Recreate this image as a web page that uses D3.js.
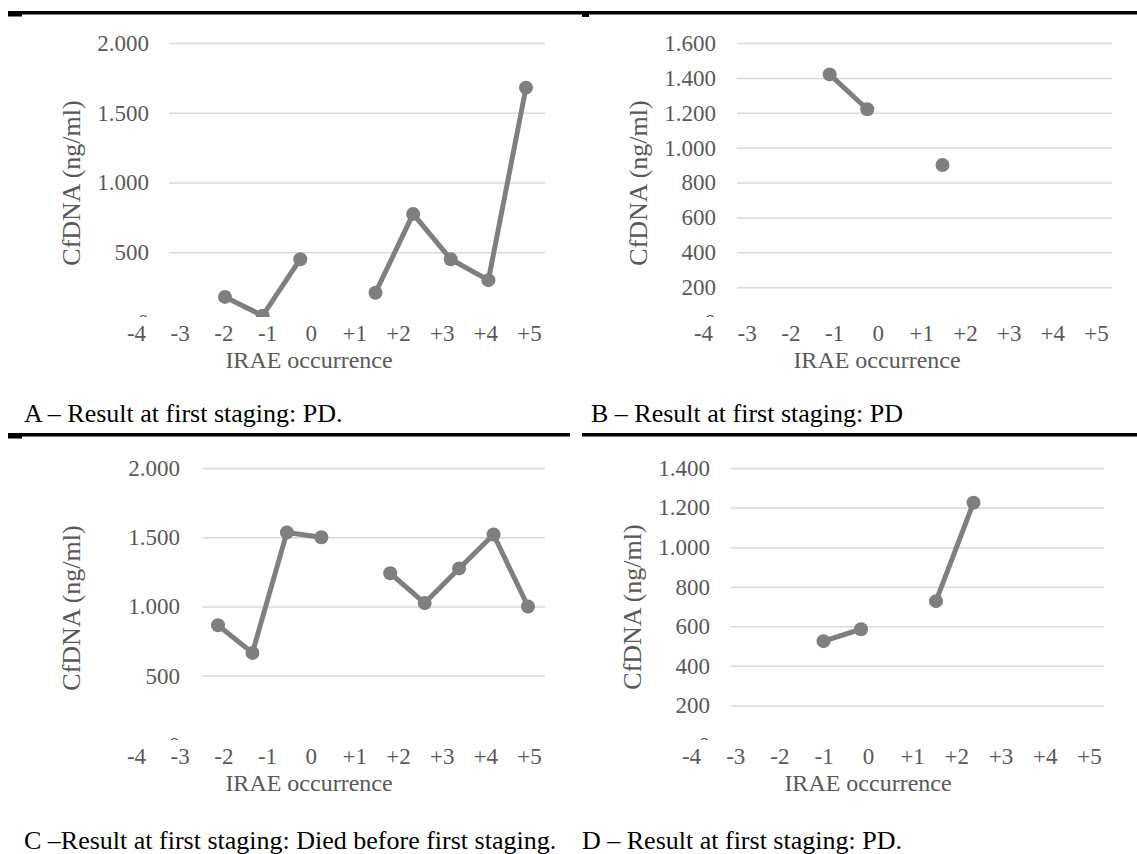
<!DOCTYPE html>
<html>
<head>
<meta charset="utf-8">
<script src="https://cdn.jsdelivr.net/npm/d3@7"></script>
<style>
  body { margin: 0; background: #fff; }
  svg { display: block; }
</style>
</head>
<body>
<div id="chart"></div>
<script>
const W = 1137;
const H = 854;

// x categories printed under every panel
const categories = ['-4', '-3', '-2', '-1', '0', '+1', '+2', '+3', '+4', '+5'];

// cfDNA values (ng/ml) per sample slot, null = no sample (gap in line)
const valuesA = [180, 45, 450, null, 210, 775, 450, 300, 1680];
const valuesB = [null, 1420, 1220, null, 900, null, null, null, null];
const valuesC = [865, 665, 1535, 1500, null, 1240, 1025, 1275, 1520, 1000];
const valuesD = [null, 525, 585, null, 727, 1225, null, null, null];

// y tick values
const ticksA = [0, 500, 1000, 1500, 2000];
const ticksB = [0, 200, 400, 600, 800, 1000, 1200, 1400, 1600];
const ticksC = [0, 500, 1000, 1500, 2000];
const ticksD = [0, 200, 400, 600, 800, 1000, 1200, 1400];

const captions = [
  'A – Result at first staging: PD.',
  'B – Result at first staging: PD',
  'C –Result at first staging: Died before first staging.',
  'D – Result at first staging: PD.'
];

const yTitle = 'CfDNA (ng/ml)';
const xTitle = 'IRAE occurrence';

// layout of the four panels
const panels = [
  { values: valuesA, ticks: ticksA, yRange: [322, 43], grid: [169, 545], labelX: 149,
    slots: [225, 526], cats: [136, 529], catY: 333, xt: [309, 360], yt: [71, 183],
    cap: [24, 413] },
  { values: valuesB, ticks: ticksB, yRange: [322, 43], grid: [737, 1112], labelX: 716,
    slots: [792, 1093], cats: [703, 1096], catY: 333, xt: [877, 360], yt: [638, 183],
    cap: [591, 413] },
  { values: valuesC, ticks: ticksC, yRange: [745, 468], grid: [202, 545], labelX: 180,
    slots: [218, 528], cats: [136, 529], catY: 756, xt: [309, 783], yt: [71, 608],
    cap: [24, 840] },
  { values: valuesD, ticks: ticksD, yRange: [745, 468], grid: [731, 1104], labelX: 710,
    slots: [786, 1086], cats: [691, 1089], catY: 756, xt: [868, 783], yt: [632, 607],
    cap: [582, 840] }
];

const FONT = "'Liberation Serif', 'Times New Roman', serif";
const GREY = '#595959';
const LINE = '#7f7f7f';

const fmt = d3.formatLocale({ decimal: ',', thousands: '.', grouping: [3], currency: ['', ''] }).format(',d');

const svg = d3.select('#chart').append('svg')
  .attr('width', W)
  .attr('height', H)
  .style('background', '#fff');

panels.forEach((p, i) => {
  const y = d3.scaleLinear()
    .domain([0, d3.max(p.ticks)])
    .range(p.yRange);
  const x = d3.scalePoint()
    .domain(d3.range(p.values.length))
    .range(p.slots);
  const cx = d3.scalePoint()
    .domain(categories)
    .range(p.cats);

  const g = svg.append('g');

  // gridlines + value labels
  const yAxis = g.append('g')
    .attr('transform', `translate(${p.grid[0]},0)`)
    .call(d3.axisLeft(y)
      .tickValues(p.ticks)
      .tickSize(-(p.grid[1] - p.grid[0]))
      .tickPadding(p.grid[0] - p.labelX)
      .tickFormat(fmt));
  yAxis.select('.domain').remove();
  yAxis.selectAll('line').attr('stroke', '#d9d9d9').attr('stroke-width', 1.5);
  yAxis.selectAll('text')
    .attr('fill', GREY)
    .style('font-family', FONT)
    .style('font-size', '23px');

  // series line with gaps
  const line = d3.line()
    .defined(d => d != null)
    .x((d, j) => x(j))
    .y(d => y(d));
  g.append('path')
    .datum(p.values)
    .attr('d', line)
    .attr('fill', 'none')
    .attr('stroke', LINE)
    .attr('stroke-width', 5)
    .attr('stroke-linejoin', 'round');

  g.selectAll('circle')
    .data(p.values.map((v, j) => ({ v, j })).filter(d => d.v != null))
    .enter()
    .append('circle')
    .attr('cx', d => x(d.j))
    .attr('cy', d => y(d.v))
    .attr('r', 7)
    .attr('fill', LINE);

  // white text box pasted over the bottom of the chart
  const y0 = y(0);
  g.append('rect')
    .attr('x', p.labelX - 60)
    .attr('y', y0 - 5)
    .attr('width', p.grid[1] - p.labelX + 70)
    .attr('height', 20)
    .attr('fill', '#fff');

  // category labels typed in the box
  const xAxis = g.append('g')
    .attr('transform', `translate(0,${p.catY})`)
    .call(d3.axisBottom(cx).tickSize(0).tickPadding(0));
  xAxis.select('.domain').remove();
  xAxis.selectAll('text')
    .attr('y', 0)
    .attr('dy', '0.35em')
    .attr('fill', GREY)
    .style('font-family', FONT)
    .style('font-size', '23px');

  g.append('text')
    .attr('x', p.xt[0])
    .attr('y', p.xt[1])
    .attr('dy', '0.35em')
    .attr('text-anchor', 'middle')
    .attr('fill', GREY)
    .style('font-family', FONT)
    .style('font-size', '24px')
    .text(xTitle);

  g.append('text')
    .attr('transform', `translate(${p.yt[0]},${p.yt[1]}) rotate(-90)`)
    .attr('dy', '0.35em')
    .attr('text-anchor', 'middle')
    .attr('fill', GREY)
    .style('font-family', FONT)
    .style('font-size', '26px')
    .text(yTitle);

  svg.append('text')
    .attr('x', p.cap[0])
    .attr('y', p.cap[1])
    .attr('dy', '0.35em')
    .attr('fill', '#000')
    .style('font-family', FONT)
    .style('font-size', '26px')
    .text(captions[i]);
});

// black rules of the table layout
const rules = [
  [8, 11, 1129, 3.5], [8, 11, 14, 5.5], [582, 13, 7, 4],
  [8, 433, 562, 3.5], [8, 433, 14, 5.5], [582, 433, 555, 3.5]
];
svg.selectAll('rect.rule')
  .data(rules)
  .enter()
  .append('rect')
  .attr('class', 'rule')
  .attr('x', d => d[0])
  .attr('y', d => d[1])
  .attr('width', d => d[2])
  .attr('height', d => d[3])
  .attr('fill', '#000');
</script>
</body>
</html>
